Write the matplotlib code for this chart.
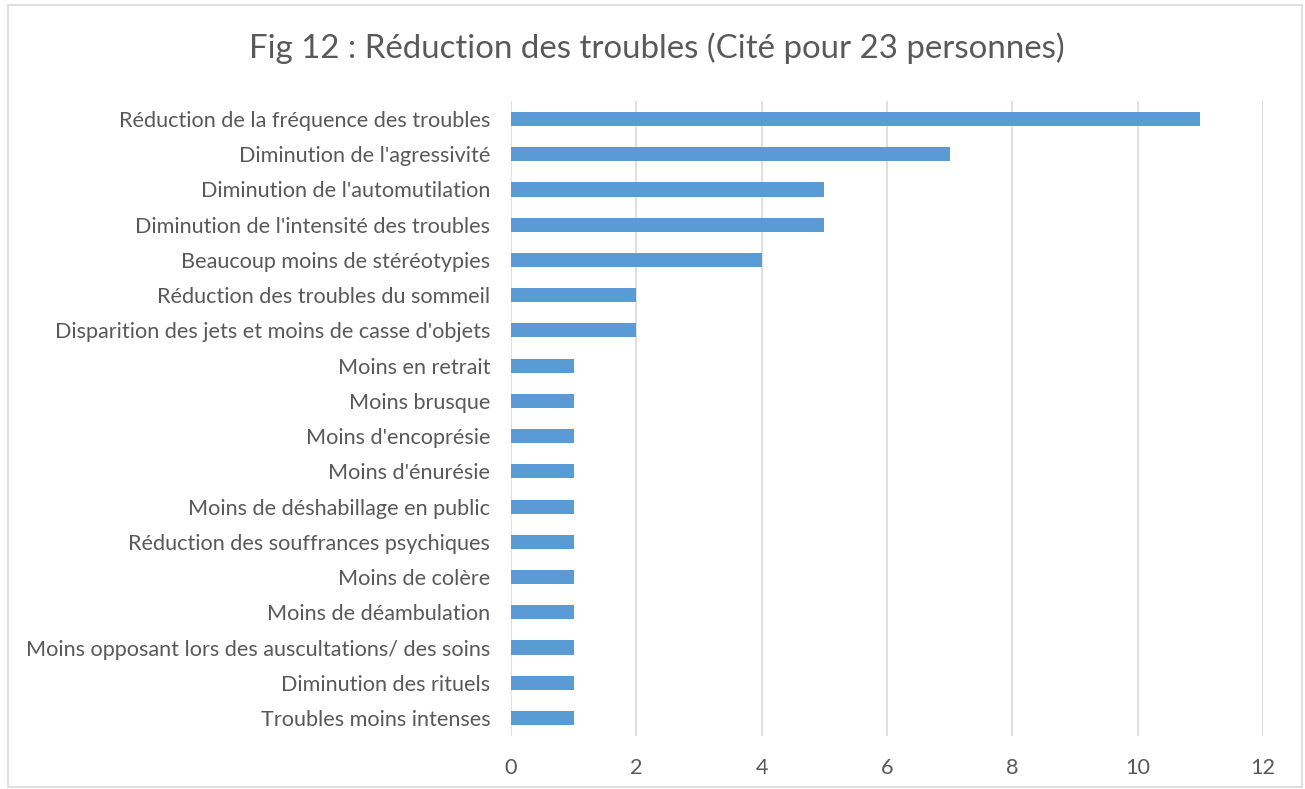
import matplotlib
matplotlib.use("Agg")
import matplotlib.pyplot as plt
from matplotlib.patches import Rectangle

plt.rcParams['font.family'] = ['Lato', 'DejaVu Sans']

categories = [
    "Réduction de la fréquence des troubles",
    "Diminution de l'agressivité",
    "Diminution de l'automutilation",
    "Diminution de l'intensité des troubles",
    "Beaucoup moins de stéréotypies",
    "Réduction des troubles du sommeil",
    "Disparition des jets et moins de casse d'objets",
    "Moins en retrait",
    "Moins brusque",
    "Moins d'encoprésie",
    "Moins d'énurésie",
    "Moins de déshabillage en public",
    "Réduction des souffrances psychiques",
    "Moins de colère",
    "Moins de déambulation",
    "Moins opposant lors des auscultations/ des soins",
    "Diminution des rituels",
    "Troubles moins intenses",
]
values = [11, 7, 5, 5, 4, 2, 2, 1, 1, 1, 1, 1, 1, 1, 1, 1, 1, 1]
xticks = [0, 2, 4, 6, 8, 10, 12]

text_col = '#595959'
fig = plt.figure(figsize=(13.05, 7.89), dpi=100)
ax = fig.add_axes([0.3916, 0.0677, 0.5762, 0.8038])

ypos = list(range(len(categories)))
ax.barh(ypos, values, height=0.4, color='#5B9BD5', zorder=3)
ax.set_ylim(len(categories) - 0.5, -0.5)
ax.set_xlim(0, 12)
ax.set_yticks(ypos)
ax.set_yticklabels(categories, fontsize=15.6, color=text_col)
ax.set_xticks(xticks)
ax.set_xticklabels([str(t) for t in xticks], fontsize=15.6, color=text_col)
ax.tick_params(axis='both', length=0)
ax.tick_params(axis='x', pad=16)
ax.tick_params(axis='y', pad=15)
ax.grid(axis='x', color='#D9D9D9', linewidth=1.2, zorder=0)
for s in ax.spines.values():
    s.set_visible(False)

fig.text(0.503, 0.939, "Fig 12 : Réduction des troubles (Cité pour 23 personnes)",
         ha='center', va='center', fontsize=23.8, color=text_col)

fig.patches.append(Rectangle((8 / 1305, 2 / 789), 1294 / 1305, 782 / 789,
                             transform=fig.transFigure, fill=False,
                             edgecolor='#D9D9D9', linewidth=1.2))

fig.savefig("out.png", dpi=100)
